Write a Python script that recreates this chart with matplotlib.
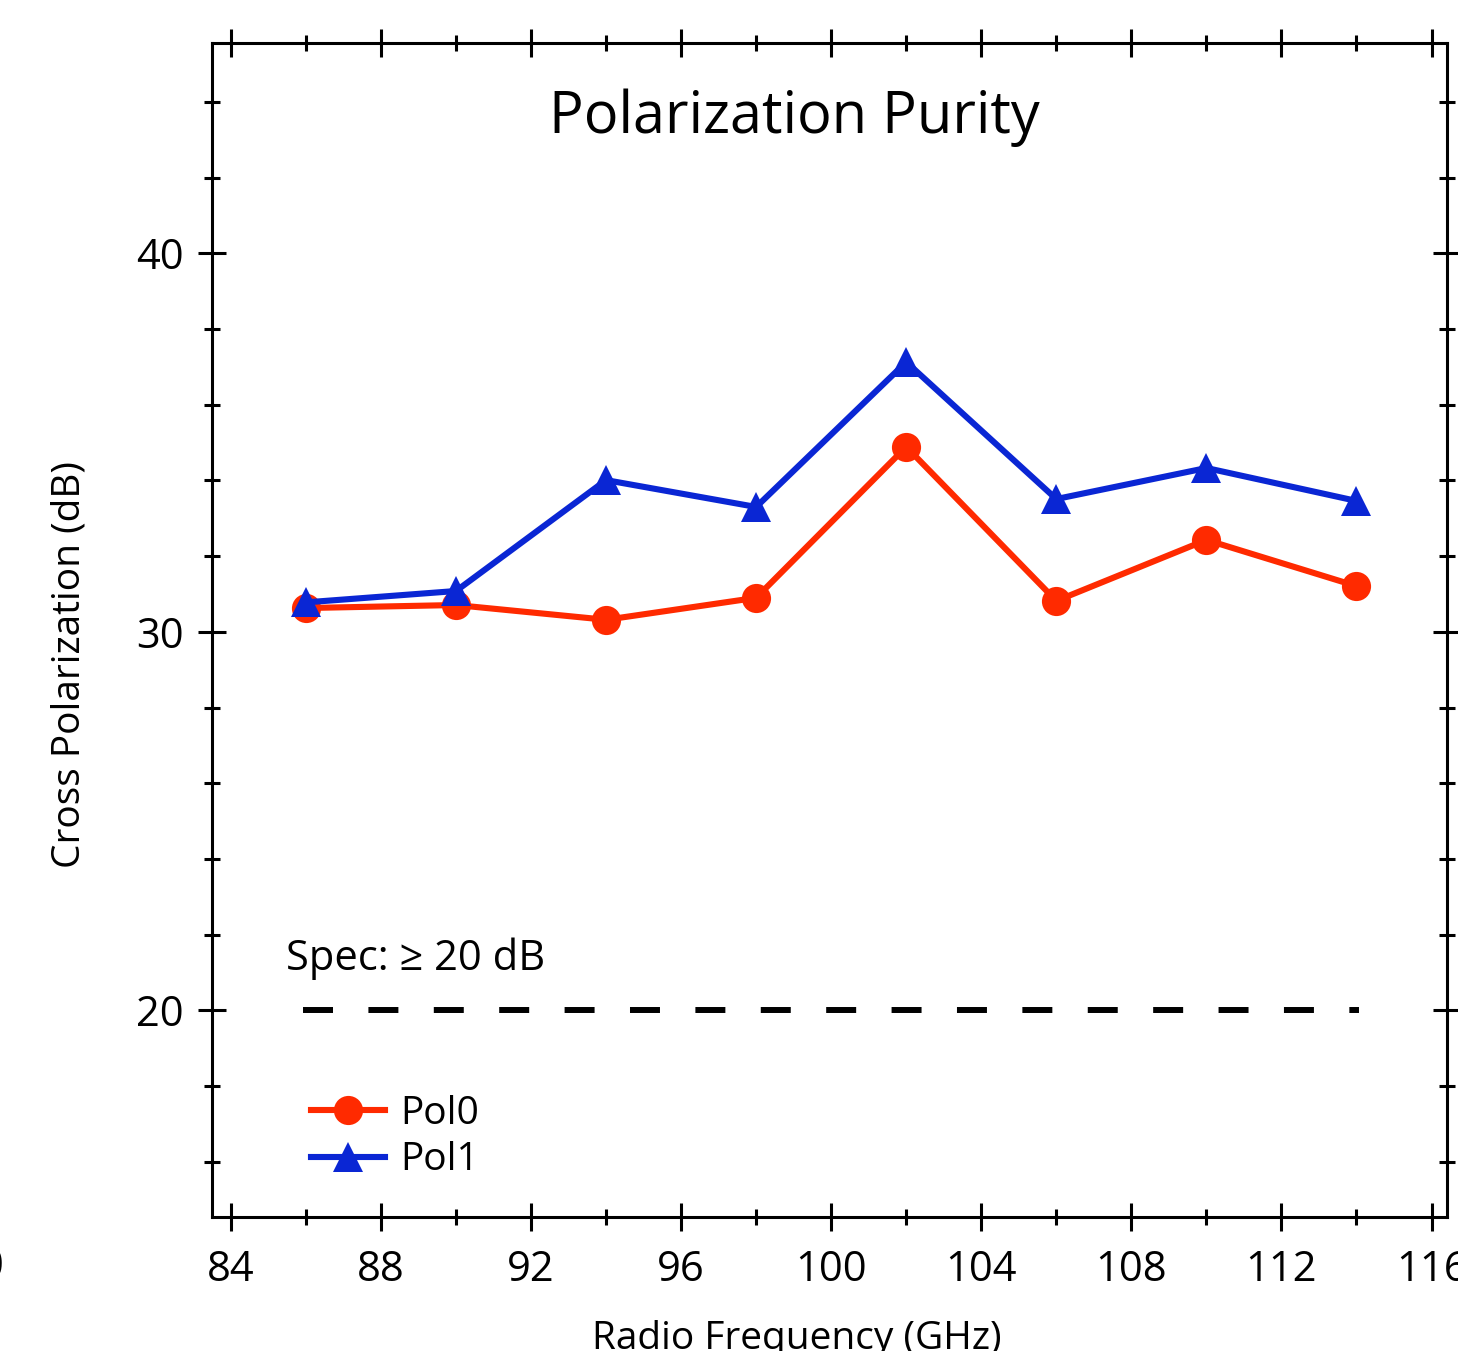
import matplotlib
matplotlib.use("Agg")
import matplotlib.pyplot as plt
from matplotlib.ticker import MultipleLocator

plt.rcParams['font.family'] = ['Open Sans', 'DejaVu Sans']

freq = [86, 90, 94, 98, 102, 106, 110, 114]
pol0 = [30.63, 30.71, 30.32, 30.90, 34.89, 30.82, 32.43, 31.21]
pol1 = [30.78, 31.08, 34.01, 33.30, 37.13, 33.51, 34.33, 33.46]
spec_level = 20
labels = ["Pol0", "Pol1"]
title = "Polarization Purity"
xlabel = "Radio Frequency (GHz)"
ylabel = "Cross Polarization (dB)"
spec_text = "Spec: \u2265 20 dB"

RED = '#FF2A00'
BLUE = '#0A26D4'

W, H = 1458, 1351
fig = plt.figure(figsize=(W / 100, H / 100), dpi=100)
ax = fig.add_axes([211.7 / W, 1 - 1216.7 / H, (1447.3 - 211.7) / W, (1216.7 - 43.3) / H])

ax.plot(freq, pol0, color=RED, lw=4.4, marker='o', ms=21, mec=RED, mew=0, label=labels[0], zorder=3)
ax.plot(freq, pol1, color=BLUE, lw=4.4, marker='^', ms=21, mec=BLUE, mew=0, label=labels[1], zorder=4)
ax.plot([freq[0], freq[-1]], [spec_level, spec_level], color='black', lw=4.3,
        linestyle=(0, (4.02, 6.93)), dash_capstyle='projecting', zorder=2)

ax.set_xlim(83.49, 116.42)
ax.set_ylim(14.55, 45.55)

ax.xaxis.set_major_locator(MultipleLocator(4))
ax.xaxis.set_minor_locator(MultipleLocator(2))
ax.yaxis.set_major_locator(MultipleLocator(10))
ax.yaxis.set_minor_locator(MultipleLocator(2))

for s in ax.spines.values():
    s.set_linewidth(2.2)

ax.tick_params(which='both', direction='inout', top=True, right=True, width=2.2, labelsize=30)
ax.tick_params(which='major', length=20)
ax.tick_params(which='minor', length=11)
ax.tick_params(axis='x', which='major', pad=13)
ax.tick_params(axis='y', which='major', pad=10)

ax.text(0.4718, (1216.7 - 133) / 1173.4, title, transform=ax.transAxes,
        ha='center', va='baseline', fontsize=41.5)
ax.text(85.47, 21.07, spec_text, ha='left', va='baseline', fontsize=30)

fig.text(70 / W, 1 - 664 / H, ylabel, rotation=90, ha='center', va='center', fontsize=28)
fig.text(797 / W, 1 - 1349 / H, xlabel, ha='center', va='baseline', fontsize=28)
fig.text(4 / W, 1 - 1267 / H, "0", ha='right', va='center', fontsize=30)

leg = ax.legend(loc='center left', bbox_to_anchor=(0.0804, 0.0679), frameon=False,
                fontsize=28, handlelength=1.9, handletextpad=0.4, labelspacing=0.22,
                borderpad=0, borderaxespad=0, numpoints=1)

fig.savefig("out.png", dpi=100)
